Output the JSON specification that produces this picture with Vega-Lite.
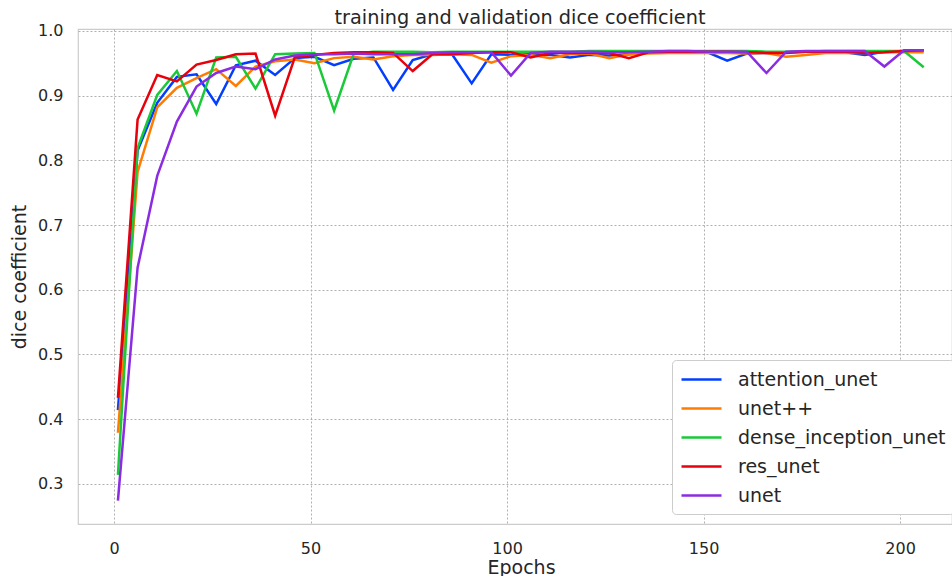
{
  "$schema": "https://vega.github.io/schema/vega-lite/v6.json",
  "width": 874,
  "height": 495,
  "autosize": {"type": "none"},
  "padding": {"left": 78, "top": 29, "right": 0, "bottom": 52},
  "background": "white",
  "title": {
    "text": "training and validation dice coefficient",
    "font": "DejaVu Sans",
    "fontSize": 19.3,
    "fontWeight": "normal",
    "color": "#262626",
    "offset": -5,
    "dx": 5
  },
  "config": {
    "view": {"stroke": "#cccccc", "strokeWidth": 1.2},
    "font": "DejaVu Sans"
  },
  "data": {
    "values": [
      {"epoch": 1, "attention_unet": 0.414, "unet++": 0.379, "dense_inception_unet": 0.314, "res_unet": 0.433, "unet": 0.274},
      {"epoch": 6, "attention_unet": 0.815, "unet++": 0.782, "dense_inception_unet": 0.819, "res_unet": 0.863, "unet": 0.634},
      {"epoch": 11, "attention_unet": 0.889, "unet++": 0.882, "dense_inception_unet": 0.901, "res_unet": 0.932, "unet": 0.776},
      {"epoch": 16, "attention_unet": 0.929, "unet++": 0.912, "dense_inception_unet": 0.938, "res_unet": 0.922, "unet": 0.860},
      {"epoch": 21, "attention_unet": 0.933, "unet++": 0.927, "dense_inception_unet": 0.872, "res_unet": 0.948, "unet": 0.914},
      {"epoch": 26, "attention_unet": 0.887, "unet++": 0.941, "dense_inception_unet": 0.959, "res_unet": 0.955, "unet": 0.935},
      {"epoch": 31, "attention_unet": 0.947, "unet++": 0.915, "dense_inception_unet": 0.960, "res_unet": 0.964, "unet": 0.945},
      {"epoch": 36, "attention_unet": 0.954, "unet++": 0.945, "dense_inception_unet": 0.911, "res_unet": 0.965, "unet": 0.941},
      {"epoch": 41, "attention_unet": 0.932, "unet++": 0.953, "dense_inception_unet": 0.964, "res_unet": 0.869, "unet": 0.956},
      {"epoch": 46, "attention_unet": 0.958, "unet++": 0.956, "dense_inception_unet": 0.965, "res_unet": 0.959, "unet": 0.962},
      {"epoch": 51, "attention_unet": 0.960, "unet++": 0.950, "dense_inception_unet": 0.966, "res_unet": 0.963, "unet": 0.964},
      {"epoch": 56, "attention_unet": 0.947, "unet++": 0.958, "dense_inception_unet": 0.877, "res_unet": 0.966, "unet": 0.964},
      {"epoch": 61, "attention_unet": 0.957, "unet++": 0.960, "dense_inception_unet": 0.965, "res_unet": 0.967, "unet": 0.965},
      {"epoch": 66, "attention_unet": 0.959, "unet++": 0.956, "dense_inception_unet": 0.968, "res_unet": 0.967, "unet": 0.964},
      {"epoch": 71, "attention_unet": 0.909, "unet++": 0.961, "dense_inception_unet": 0.968, "res_unet": 0.966, "unet": 0.964},
      {"epoch": 76, "attention_unet": 0.955, "unet++": 0.963, "dense_inception_unet": 0.968, "res_unet": 0.938, "unet": 0.964},
      {"epoch": 81, "attention_unet": 0.964, "unet++": 0.963, "dense_inception_unet": 0.967, "res_unet": 0.964, "unet": 0.966},
      {"epoch": 86, "attention_unet": 0.964, "unet++": 0.964, "dense_inception_unet": 0.968, "res_unet": 0.964, "unet": 0.967},
      {"epoch": 91, "attention_unet": 0.919, "unet++": 0.963, "dense_inception_unet": 0.968, "res_unet": 0.966, "unet": 0.967},
      {"epoch": 96, "attention_unet": 0.964, "unet++": 0.951, "dense_inception_unet": 0.968, "res_unet": 0.967, "unet": 0.967},
      {"epoch": 101, "attention_unet": 0.963, "unet++": 0.961, "dense_inception_unet": 0.968, "res_unet": 0.967, "unet": 0.931},
      {"epoch": 106, "attention_unet": 0.964, "unet++": 0.963, "dense_inception_unet": 0.968, "res_unet": 0.959, "unet": 0.966},
      {"epoch": 111, "attention_unet": 0.963, "unet++": 0.958, "dense_inception_unet": 0.968, "res_unet": 0.966, "unet": 0.968},
      {"epoch": 116, "attention_unet": 0.959, "unet++": 0.964, "dense_inception_unet": 0.968, "res_unet": 0.966, "unet": 0.968},
      {"epoch": 121, "attention_unet": 0.963, "unet++": 0.965, "dense_inception_unet": 0.969, "res_unet": 0.966, "unet": 0.968},
      {"epoch": 126, "attention_unet": 0.962, "unet++": 0.958, "dense_inception_unet": 0.969, "res_unet": 0.966, "unet": 0.967},
      {"epoch": 131, "attention_unet": 0.964, "unet++": 0.964, "dense_inception_unet": 0.969, "res_unet": 0.958, "unet": 0.967},
      {"epoch": 136, "attention_unet": 0.967, "unet++": 0.965, "dense_inception_unet": 0.969, "res_unet": 0.967, "unet": 0.968},
      {"epoch": 141, "attention_unet": 0.968, "unet++": 0.966, "dense_inception_unet": 0.969, "res_unet": 0.968, "unet": 0.969},
      {"epoch": 146, "attention_unet": 0.968, "unet++": 0.966, "dense_inception_unet": 0.969, "res_unet": 0.968, "unet": 0.969},
      {"epoch": 151, "attention_unet": 0.967, "unet++": 0.966, "dense_inception_unet": 0.969, "res_unet": 0.968, "unet": 0.968},
      {"epoch": 156, "attention_unet": 0.954, "unet++": 0.966, "dense_inception_unet": 0.969, "res_unet": 0.968, "unet": 0.968},
      {"epoch": 161, "attention_unet": 0.965, "unet++": 0.965, "dense_inception_unet": 0.969, "res_unet": 0.967, "unet": 0.968},
      {"epoch": 166, "attention_unet": 0.966, "unet++": 0.966, "dense_inception_unet": 0.968, "res_unet": 0.966, "unet": 0.935},
      {"epoch": 171, "attention_unet": 0.967, "unet++": 0.960, "dense_inception_unet": 0.968, "res_unet": 0.966, "unet": 0.968},
      {"epoch": 176, "attention_unet": 0.968, "unet++": 0.963, "dense_inception_unet": 0.968, "res_unet": 0.968, "unet": 0.969},
      {"epoch": 181, "attention_unet": 0.968, "unet++": 0.966, "dense_inception_unet": 0.969, "res_unet": 0.968, "unet": 0.969},
      {"epoch": 186, "attention_unet": 0.967, "unet++": 0.966, "dense_inception_unet": 0.969, "res_unet": 0.968, "unet": 0.969},
      {"epoch": 191, "attention_unet": 0.963, "unet++": 0.966, "dense_inception_unet": 0.969, "res_unet": 0.966, "unet": 0.969},
      {"epoch": 196, "attention_unet": 0.968, "unet++": 0.967, "dense_inception_unet": 0.969, "res_unet": 0.967, "unet": 0.945},
      {"epoch": 201, "attention_unet": 0.969, "unet++": 0.967, "dense_inception_unet": 0.969, "res_unet": 0.969, "unet": 0.970},
      {"epoch": 206, "attention_unet": 0.970, "unet++": 0.967, "dense_inception_unet": 0.944, "res_unet": 0.970, "unet": 0.970}
    ]
  },
  "transform": [
    {"fold": ["attention_unet", "unet++", "dense_inception_unet", "res_unet", "unet"], "as": ["model", "dice"]}
  ],
  "mark": {"type": "line", "strokeWidth": 2.5, "clip": true},
  "encoding": {
    "x": {
      "field": "epoch",
      "type": "quantitative",
      "scale": {"domain": [-9.16, 213.2], "nice": false, "zero": false},
      "axis": {
        "title": "Epochs",
        "values": [0, 50, 100, 150, 200],
        "ticks": false,
        "domain": false,
        "labelFont": "DejaVu Sans",
        "labelFontSize": 16,
        "labelColor": "#262626",
        "labelPadding": 16,
        "titleFont": "DejaVu Sans",
        "titleFontSize": 19,
        "titleFontWeight": "normal",
        "titleColor": "#262626",
        "titlePadding": 2,
        "titleX": 443,
        "grid": true,
        "gridColor": "#b0b0b0",
        "gridDash": [2, 2],
        "gridWidth": 1
      }
    },
    "y": {
      "field": "dice",
      "type": "quantitative",
      "scale": {"domain": [0.238, 1.003], "nice": false, "zero": false},
      "axis": {
        "title": "dice coefficient",
        "values": [0.3, 0.4, 0.5, 0.6, 0.7, 0.8, 0.9, 1.0],
        "format": ".1f",
        "ticks": false,
        "domain": false,
        "labelFont": "DejaVu Sans",
        "labelFontSize": 16,
        "labelColor": "#262626",
        "labelPadding": 15,
        "titleFont": "DejaVu Sans",
        "titleFontSize": 19,
        "titleFontWeight": "normal",
        "titleColor": "#262626",
        "titlePadding": 8,
        "grid": true,
        "gridColor": "#b0b0b0",
        "gridDash": [2, 2],
        "gridWidth": 1
      }
    },
    "color": {
      "field": "model",
      "type": "nominal",
      "scale": {
        "domain": ["attention_unet", "unet++", "dense_inception_unet", "res_unet", "unet"],
        "range": ["#023eff", "#ff7c00", "#1ac938", "#e8000b", "#8b2be2"]
      },
      "legend": {
        "title": null,
        "orient": "none",
        "legendX": 594,
        "legendY": 331,
        "symbolType": "M-1,0H3",
        "symbolSize": 400,
        "symbolStrokeWidth": 2.5,
        "labelFont": "DejaVu Sans",
        "labelFontSize": 19,
        "labelColor": "#262626",
        "labelOffset": 35,
        "rowPadding": 7,
        "padding": 8,
        "fillColor": "white",
        "strokeColor": "#cccccc",
        "cornerRadius": 4,
        "labelLimit": 400
      }
    }
  }
}
